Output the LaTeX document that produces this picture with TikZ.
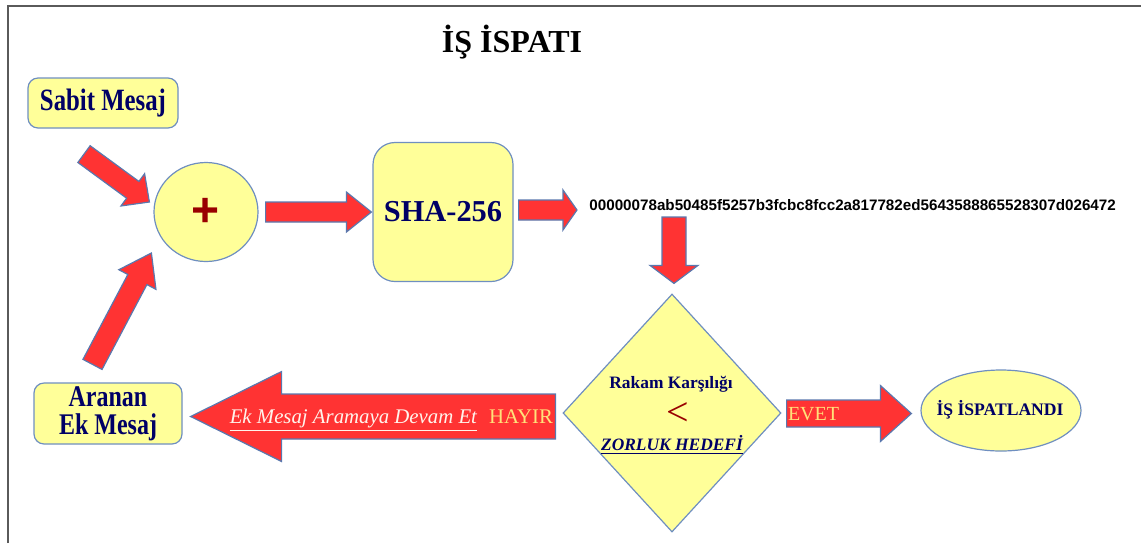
\documentclass[tikz,border=0pt]{standalone}
\usepackage{fontspec}
\setmainfont{Liberation Serif}
\setsansfont{Liberation Sans}
\newfontfamily\narrowserif[FakeStretch=0.8]{Liberation Serif}
\usetikzlibrary{calc,shapes.geometric}
\definecolor{pale}{HTML}{FFFF99}
\definecolor{edge}{HTML}{6F8FC0}
\definecolor{navy}{HTML}{000066}
\definecolor{blood}{HTML}{990000}
\definecolor{flame}{HTML}{FF3333}
\definecolor{flameedge}{HTML}{5A78AE}
\definecolor{answer}{HTML}{FFE27A}
\definecolor{cream}{HTML}{FFF4EC}
\definecolor{rimgrey}{HTML}{5A5A5A}
% one outlined block arrow: tail, tip, half shaft, half head, head length
\newcommand{\FatArrow}[5]{%
  \path (#1) coordinate (fa-tail) (#2) coordinate (fa-tip);
  \path ($(fa-tip)!#5!(fa-tail)$) coordinate (fa-neck);
  \draw[blockarrow] ($(fa-tail)!#3!-90:(fa-tip)$) -- ($(fa-neck)!#3!90:(fa-tail)$)
    -- ($(fa-neck)!#4!90:(fa-tail)$) -- (fa-tip) -- ($(fa-neck)!#4!-90:(fa-tail)$)
    -- ($(fa-neck)!#3!-90:(fa-tail)$) -- ($(fa-tail)!#3!90:(fa-tip)$) -- cycle;
}

\begin{document}
\begin{tikzpicture}[x=0.5pt, y=-0.5pt,
    panel/.style={draw=edge, line width=0.6pt, fill=pale, rounded corners=#1, text=navy, align=center, inner sep=0pt},
    blob/.style={ellipse, draw=edge, line width=0.6pt, fill=pale, inner sep=0pt},
    blockarrow/.style={draw=flameedge, line width=0.6pt, fill=flame, line join=miter},
    rim/.style={draw=rimgrey, line width=1pt},
  ]
\useasboundingbox (0,0) rectangle (1141,543);
% --- Frame and title ----------------------------------------------------------
\draw[rim] (8,543) -- (8,6) -- (1141,6);
\node[anchor=base, font=\bfseries\fontsize{16}{16}\selectfont] (title) at (512,52) {İŞ İSPATI};

% --- Boxes --------------------------------------------------------------------
\node[panel=5pt, minimum width=75pt, minimum height=25pt, font=\narrowserif\bfseries\fontsize{15.5}{13}\selectfont] (sabit) at (103,103) {Sabit Mesaj};
\node[panel=5pt, minimum width=74pt, minimum height=30.5pt, font=\narrowserif\bfseries\fontsize{15}{14}\selectfont] (aranan) at (108,413.5) {Aranan\\Ek Mesaj};
\node[blob, minimum width=52pt, minimum height=49.5pt, text=blood, font=\sffamily\bfseries\fontsize{24}{24}\selectfont] (plus) at (206,212) {+};
\node[panel=11pt, minimum width=70pt, minimum height=69.5pt, font=\bfseries\fontsize{15.2}{16}\selectfont] (sha) at (443,212) {SHA-256};
\node[anchor=base west, inner sep=0pt, font=\sffamily\bfseries\fontsize{7.6}{9}\selectfont] (hash) at (589,210)
  {00000078ab50485f5257b3fcbc8fcc2a817782ed5643588865528307d026472};
\node[diamond, draw=edge, line width=0.6pt, fill=pale, inner sep=0pt, minimum width=109pt, minimum height=119pt] (test) at (672,413) {};
\node[anchor=base, text=navy, font=\bfseries\fontsize{8.7}{10}\selectfont] (rakam) at ($(test.center)+(-1,-25)$) {Rakam Karşılığı};
\node[text=blood, font=\fontsize{20}{20}\selectfont] (less) at ($(test.center)+(6,1)$) {<};
\node[anchor=base, text=navy, font=\bfseries\itshape\fontsize{8.7}{10}\selectfont] (target) at ($(test.center)+(0,37)$) {\underline{ZORLUK HEDEFİ}};
\node[blob, minimum width=80pt, minimum height=40.5pt] (done) at (1001,410.5) {};
\node[anchor=base, text=navy, font=\bfseries\fontsize{8.8}{10}\selectfont] (donetext) at ($(done.center)+(-1,4.5)$) {İŞ İSPATLANDI};

% --- Arrow ends ---------------------------------------------------------------
\coordinate (a1) at ($(sabit.south)+(-19,25.5)$);
\coordinate (b1) at ($(plus.west)+(-4,-10)$);
\coordinate (a2) at ($(aranan.north)+(-15.5,-18)$);
\coordinate (b2) at ($(plus.west)+(-2,41)$);
\coordinate (a3) at ($(plus.east)+(7,0)$);
\coordinate (b3) at ($(sha.west)+(-1,0)$);
\coordinate (a4) at ($(sha.east)+(5,-2)$);
\coordinate (b4) at ($(hash.base west)+(-12,0)$);
\coordinate (a5) at ($(hash.base west)+(85,7)$);
\coordinate (b5) at ($(test.north)+(2,-10)$);
\coordinate (a6) at ($(test.west)+(-7,3.5)$);
\coordinate (b6) at ($(aranan.east)+(8,3)$);
\coordinate (a7) at ($(test.east)+(5,0.5)$);
\coordinate (b7) at ($(done.west)+(-9,3)$);

% --- Block arrows -------------------------------------------------------------
\foreach \from/\to/\ws/\wh/\hl in {a1/b1/5.2pt/10pt/10.3pt, a2/b2/5.4pt/10.5pt/15pt,
    a3/b3/5pt/10pt/12.5pt, a4/b4/5pt/10pt/7pt, a5/b5/6pt/12pt/9pt,
    a6/b6/11.25pt/22.5pt/45.5pt, a7/b7/6.75pt/14pt/15.5pt}
  \FatArrow{\from}{\to}{\ws}{\wh}{\hl};

% --- Answers on the arrows ----------------------------------------------------
\node[anchor=base east, inner sep=0pt, text=answer, font=\fontsize{10.4}{12}\selectfont] (no) at ($(a6)+(-2,6.5)$) {HAYIR};
\node[anchor=base east, inner sep=0pt, text=cream, font=\itshape\fontsize{10.4}{12}\selectfont] (goon) at ($(a6)+(-78,6.5)$) {\underline{Ek Mesaj Aramaya Devam Et}};
\node[anchor=base west, inner sep=0pt, text=answer, font=\fontsize{10}{12}\selectfont] (yes) at ($(a7)+(1,6.5)$) {EVET};
\end{tikzpicture}
\end{document}
